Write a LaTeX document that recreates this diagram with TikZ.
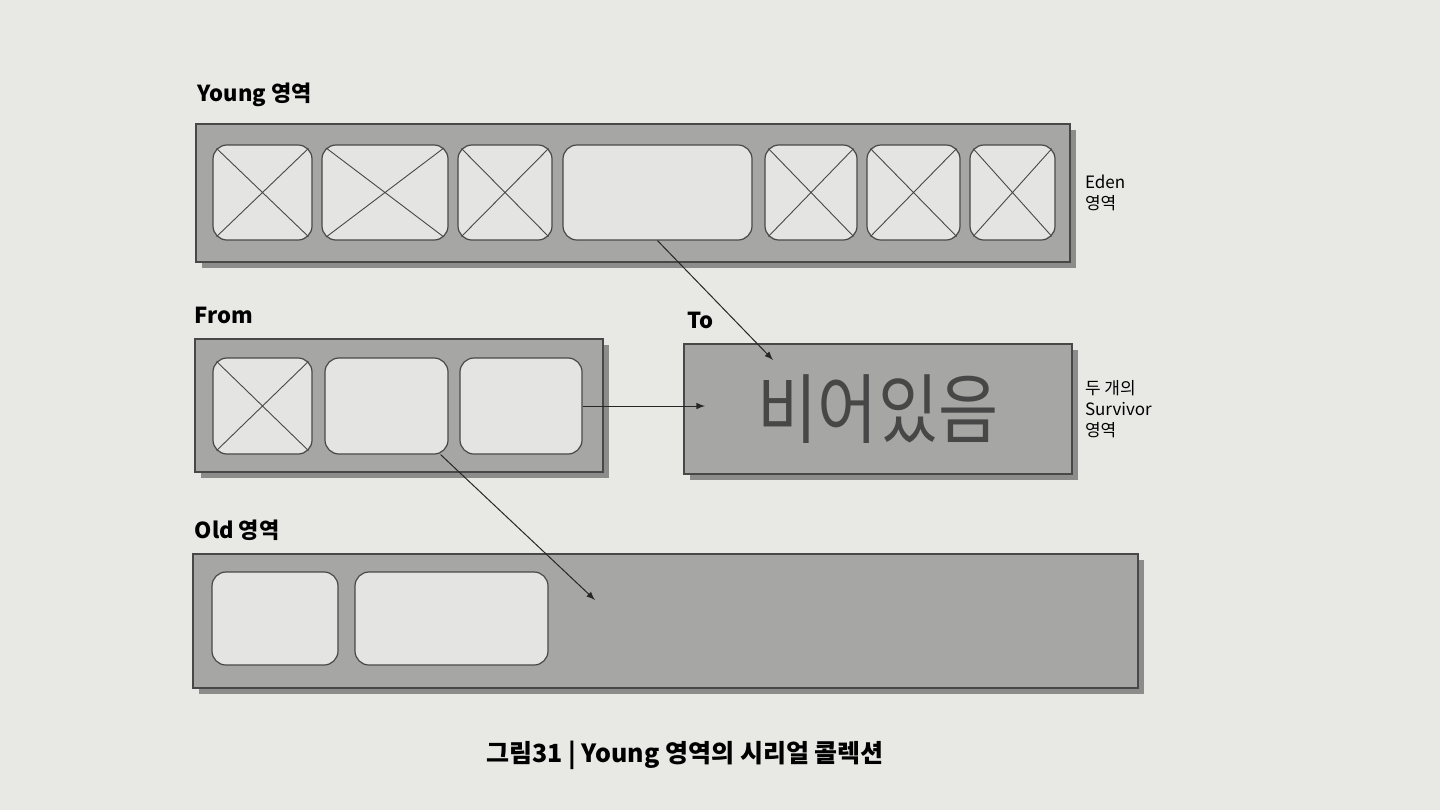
\documentclass[tikz,border=0pt]{standalone}
\usepackage{fontspec}
\setmainfont{Noto Sans CJK KR}
\usetikzlibrary{positioning, fit, shadows}
\definecolor{pagebg}{RGB}{232,232,229}
\definecolor{bandgray}{RGB}{166,166,164}
\definecolor{cellgray}{RGB}{228,228,226}
\definecolor{edgegray}{RGB}{72,72,72}
\tikzset{
    region/.style={draw=edgegray, fill=bandgray, inner sep=0pt, line width=0.6pt,
        drop shadow={shadow xshift=3pt, shadow yshift=-3pt, fill=black!60, opacity=0.7}},
    cell/.style={draw=edgegray, fill=cellgray, rounded corners=7pt, inner sep=0pt, line width=0.6pt},
    full/.style={draw=edgegray, line width=0.45pt},
    tag/.style={font=\bfseries\fontsize{11}{13}\selectfont, inner sep=0pt},
    side/.style={font=\fontsize{8.5}{10.5}\selectfont, align=left, inner sep=0pt},
    move/.style = {-latex, line width=0.5pt, draw=black!85} }

\begin{document}
\begin{tikzpicture}[x=0.5pt, y=-0.5pt]
      \fill[pagebg] (0,0) rectangle (1440,810);
      \useasboundingbox (0,0) rectangle (1440,810);
      % ---- Young / Eden
      \node[region, fit={(196,124) (1070,262)}] (young) {};
      \node[cell, fit={(213,145) (312,240)}] (e1) {};
      \node[cell, fit={(322,145) (448,240)}] (e2) {};
      \node[cell, fit={(458,145) (552,240)}] (e3) {};
      \node[cell, fit={(563,145) (752,240)}] (e4) {};
      \node[cell, fit={(765,145) (857,240)}] (e5) {};
      \node[cell, fit={(867,145) (960,240)}] (e6) {};
      \node[cell, fit={(970,145) (1055,240)}] (e7) {};
      \node[tag, above right = 8pt and 1pt of young.north west] (youngtag) {Young 영역};
      \node[side, right = 7pt of young.east] (edentag) {Eden\\영역};
      % ---- Survivor
      \node[region, fit={(195,339) (603,472)}] (from) {};
      \node[cell, fit={(213,358) (312,454)}] (f1) {};
      \node[cell, fit={(325,358) (448,454)}] (f2) {};
      \node[cell, fit={(460,358) (582,454)}] (f3) {};
      \node[region, fit={(684,344) (1072,474)}] (to) {};
      \node[font=\fontsize{38}{40}\selectfont, text=black!72, inner sep=0pt] (empty) at (to.center)
          {\scalebox{0.86}[1]{비어있음}};
      \node[tag, above right = 7pt and 0pt of from.north west] (fromtag) {From};
      \node[tag, above right = 7pt and 2pt of to.north west] (totag) {To};
      \node[side, right = 6pt of to.east] (survtag) {두 개의\\Survivor\\영역};
      % ---- Old
      \node[region, fit={(193,554) (1138,688)}] (old) {};
      \node[cell, fit={(212,572) (338,665)}] (o1) {};
      \node[cell, fit={(355,572) (548,665)}] (o2) {};
      \node[tag, above right = 6pt and 1pt of old.north west] (oldtag) {Old 영역};
      % ---- caption
      \node[font=\bfseries\fontsize{12.5}{14}\selectfont] (caption) at (685,755)
          {그림31 | Young 영역의 시리얼 콜렉션};
      % ---- crossed cells
      \foreach \c in {e1,e2,e3,e5,e6,e7,f1} {
          \begin{scope}
              \clip[rounded corners=7pt] (\c.north west) rectangle (\c.south east);
              \draw[full] (\c.north west) -- (\c.south east)
                          (\c.north east) -- (\c.south west);
          \end{scope}
      }
      % ---- copies
      \coordinate (tohit) at (773,360);
      \coordinate (tomid) at (705,406);
      \coordinate (oldhit) at (595,600);
      \draw[move] (e4.south) -- (tohit);
      \draw[move] (f3.east) -- (tomid);
      \draw[move] ([xshift=-4pt]f2.south east) -- (oldhit);
\end{tikzpicture}
\end{document}
